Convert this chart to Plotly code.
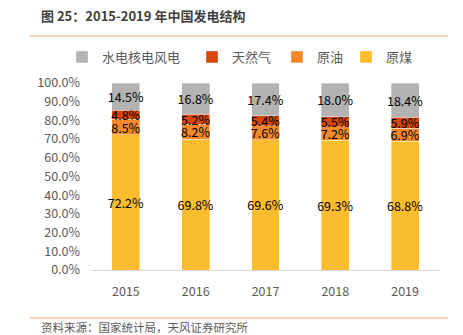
import plotly.graph_objects as go

years = ["2015", "2016", "2017", "2018", "2019"]
coal = [72.2, 69.8, 69.6, 69.3, 68.8]
oil = [8.5, 8.2, 7.6, 7.2, 6.9]
gas = [4.8, 5.2, 5.4, 5.5, 5.9]
hydro = [14.5, 16.8, 17.4, 18.0, 18.4]
series_names = ["原煤", "原油", "天然气", "水电核电风电"]
colors = ["#FBBC2D", "#F4892B", "#D5470A", "#B3B3B3"]
y_ticks = [0, 10, 20, 30, 40, 50, 60, 70, 80, 90, 100]

FONT = "Noto Sans CJK SC"
W, H = 463, 335
L, R, T, B = 91, 23, 83, 65
PW, PH = W - L - R, H - T - B

def px_x(x):
    return (x - L) / PW

def px_y(y):
    return (H - B - y) / PH

fig = go.Figure()
legend_ids = ["legend5", "legend4", "legend3", "legend2"]
for name, vals, col, lg in zip(series_names, [coal, oil, gas, hydro], colors, legend_ids):
    fig.add_trace(go.Bar(
        x=years, y=vals, name=name, legend=lg, showlegend=True,
        marker=dict(color=col, line=dict(color="rgba(255,255,255,0.6)", width=0.6)),
        text=[f"{v:.1f}%" for v in vals],
        textposition="inside", insidetextanchor="middle", textangle=0,
        textfont=dict(color="#000000", size=12.5, family=FONT),
        width=0.4,
    ))

# legend text start positions (px)
leg_text_x = {"legend2": 102, "legend3": 232, "legend4": 317, "legend5": 386}
leg_common = dict(orientation="h", yanchor="middle", xanchor="left",
                  bgcolor="rgba(0,0,0,0)", font=dict(size=13, color="#595959", family=FONT),
                  itemclick=False, itemdoubleclick=False)
for lg, tx in leg_text_x.items():
    fig.update_layout(**{lg: dict(x=px_x(tx - 40), y=px_y(57), **leg_common)})

fig.update_layout(
    width=W, height=H,
    margin=dict(l=L, r=R, t=T, b=B),
    barmode="stack",
    showlegend=True,
    paper_bgcolor="white", plot_bgcolor="white",
    uniformtext=dict(mode="show", minsize=12.5),
    font=dict(family=FONT, color="#595959"),
    xaxis=dict(showline=True, linecolor="#D9D9D9", linewidth=1, showgrid=False,
               ticks="", tickfont=dict(size=12.5, color="#595959", family=FONT),
               ticklabelstandoff=10),
    yaxis=dict(range=[0, 100], tickmode="array", tickvals=y_ticks,
               ticktext=[f"{v:.1f}%" for v in y_ticks],
               showgrid=False, zeroline=False, showline=False,
               tickfont=dict(size=12.5, color="#595959", family=FONT),
               ticklabelstandoff=10),
)

fig.add_annotation(text="<b>图 25：2015-2019 年中国发电结构</b>", xref="paper", yref="paper",
                   x=px_x(39), y=px_y(15), xanchor="left", yanchor="middle", showarrow=False,
                   font=dict(size=13, color="#404040", family=FONT))
fig.add_annotation(text="资料来源：国家统计局，天风证券研究所", xref="paper", yref="paper",
                   x=px_x(39), y=px_y(327), xanchor="left", yanchor="middle", showarrow=False,
                   font=dict(size=11.5, color="#595959", family=FONT))
for yy in (36, 318):
    fig.add_shape(type="line", xref="paper", yref="paper",
                  x0=px_x(30), x1=px_x(448), y0=px_y(yy), y1=px_y(yy),
                  line=dict(color="#F0A868", width=1.2))

fig.write_html("out.html")
